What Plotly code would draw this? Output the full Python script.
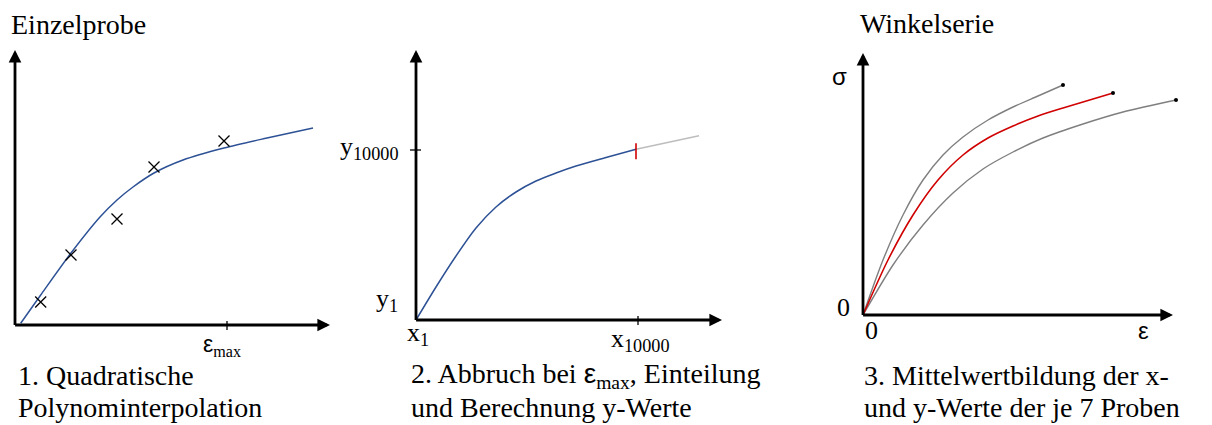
import plotly.graph_objects as go

W, H = 1212, 425

# ---- Panel 1: single specimen, measured points + quadratic polynomial fit ----
eps1_fit = [5.7, 25.7, 56, 85, 102, 118, 139, 168, 209, 252, 298]
sig1_fit = [1.7, 30, 72, 108, 125, 138, 152, 165, 177, 187, 197]
eps1_pts = [25.7, 56, 102, 139, 209]
sig1_pts = [23, 70, 106, 158, 184]
eps1_max = 212

# ---- Panel 2: cut-off at eps_max, evaluation of y values ----
eps2_fit = [0, 20, 40, 60, 80, 100, 120, 140, 160, 190, 220]
sig2_fit = [0, 33, 64, 92, 113, 128, 139, 147, 154, 162.5, 170.7]
eps2_rest = [220, 283]
sig2_rest = [170.7, 184.3]
x10000 = 222
y10000 = 170

# ---- Panel 3: angle series, outer specimens and mean curve ----
eps3_upper = [0, 20, 40, 60, 80, 100, 125, 150, 175, 200]
sig3_upper = [0, 55, 100, 135, 160, 178, 195, 208, 219, 230]
eps3_mean = [0, 25, 50, 75, 100, 125, 150, 175, 200, 250]
sig3_mean = [0, 55, 100, 135, 160, 177, 189, 199, 207, 222]
eps3_lower = [0, 30, 60, 90, 120, 150, 180, 220, 260, 313]
sig3_lower = [0, 50, 90, 122, 146, 163, 177, 191, 203, 215]

SERIF = "'Liberation Serif', 'DejaVu Serif', 'Noto Serif', 'Times New Roman', Times, serif"
SANS = "'Liberation Sans', Arial, sans-serif"
BLUE = "#2d5195"
RED = "#d00000"
GREY = "#7f7f7f"
LIGHT = "#bdbdbd"
SMOOTH = 0.8

# panel geometry: origin in pixels and axis extents (1 unit = 1 px)
panels = {
    1: dict(ox=15, oy=325, xmin=-14, xmax=322, ymin=-14, ymax=282, xtip=315, ytip=275),
    2: dict(ox=416, oy=320, xmin=-14, xmax=296, ymin=-14, ymax=278, xtip=306, ytip=270),
    3: dict(ox=863, oy=315, xmin=-14, xmax=318, ymin=-14, ymax=270, xtip=310, ytip=262),
}

fig = go.Figure()
layout = dict(width=W, height=H, margin=dict(l=0, r=0, t=0, b=0),
              paper_bgcolor="white", plot_bgcolor="rgba(0,0,0,0)",
              font=dict(family=SERIF, size=26, color="black"),
              showlegend=False, autosize=False)

annotations = []
shapes = []

for i, p in panels.items():
    sx = "" if i == 1 else str(i)
    layout["xaxis" + sx] = dict(
        domain=[(p["ox"] + p["xmin"]) / W, (p["ox"] + p["xmax"]) / W],
        range=[p["xmin"], p["xmax"]], visible=False, fixedrange=True,
        anchor="y" + sx)
    layout["yaxis" + sx] = dict(
        domain=[(H - p["oy"] + p["ymin"]) / H, (H - p["oy"] + p["ymax"]) / H],
        range=[p["ymin"], p["ymax"]], visible=False, fixedrange=True,
        anchor="x" + sx)
    xr, yr = "x" + sx, "y" + sx
    # axes drawn as arrows
    arrow = dict(showarrow=True, arrowhead=2, arrowsize=0.9, arrowwidth=2.8,
                 arrowcolor="black", xref=xr, yref=yr, axref=xr, ayref=yr, text="")
    annotations.append(dict(arrow, x=p["xtip"], y=0, ax=-1.4, ay=0))
    annotations.append(dict(arrow, x=0, y=p["ytip"], ax=0, ay=-1.4))

# panel 1 traces
fig.add_trace(go.Scatter(x=eps1_fit, y=sig1_fit, mode="lines", xaxis="x", yaxis="y",
                         line=dict(color=BLUE, width=1.5, shape="spline", smoothing=SMOOTH)))
fig.add_trace(go.Scatter(x=eps1_pts, y=sig1_pts, mode="markers", xaxis="x", yaxis="y",
                         marker=dict(symbol="x-thin", size=11, color="black",
                                     line=dict(width=1.3, color="black"))))
shapes.append(dict(type="line", xref="x", yref="y", x0=eps1_max, x1=eps1_max, y0=-5, y1=4,
                   line=dict(color="black", width=1.3)))
annotations.append(dict(x=eps1_max, y=0, xref="x", yref="y", showarrow=False,
                        xanchor="center", yanchor="top", yshift=-4, xshift=-5,
                        text="<span style='font-family:Liberation Sans'>ε</span><sub>max</sub>",
                        font=dict(family=SERIF, size=23, color="black")))

# panel 2 traces
fig.add_trace(go.Scatter(x=eps2_rest, y=sig2_rest, mode="lines", xaxis="x2", yaxis="y2",
                         line=dict(color=LIGHT, width=1.4)))
fig.add_trace(go.Scatter(x=eps2_fit, y=sig2_fit, mode="lines", xaxis="x2", yaxis="y2",
                         line=dict(color=BLUE, width=1.5, shape="spline", smoothing=SMOOTH)))
shapes.append(dict(type="line", xref="x2", yref="y2", x0=eps2_fit[-1], x1=eps2_fit[-1],
                   y0=sig2_fit[-1] - 10, y1=sig2_fit[-1] + 6, line=dict(color=RED, width=1.6)))
shapes.append(dict(type="line", xref="x2", yref="y2", x0=x10000, x1=x10000, y0=-5, y1=4,
                   line=dict(color="black", width=1.3)))
shapes.append(dict(type="line", xref="x2", yref="y2", x0=-6, x1=5, y0=y10000, y1=y10000,
                   line=dict(color="black", width=1.3)))
lab = dict(xref="x2", yref="y2", showarrow=False, font=dict(family=SERIF, size=26, color="black"))
annotations += [
    dict(lab, x=0, y=y10000, xanchor="right", yanchor="middle", xshift=-16, yshift=2,
         text="y<sub>10000</sub>"),
    dict(lab, x=0, y=0, xanchor="right", yanchor="bottom", xshift=-16, yshift=2,
         text="y<sub>1</sub>"),
    dict(lab, x=0, y=0, xanchor="left", yanchor="top", xshift=-11, yshift=4,
         text="x<sub>1</sub>"),
    dict(lab, x=x10000, y=0, xanchor="center", yanchor="top", xshift=2, yshift=-2,
         text="x<sub>10000</sub>"),
]

# panel 3 traces
for ex, sy, col in [(eps3_upper, sig3_upper, GREY), (eps3_lower, sig3_lower, GREY),
                    (eps3_mean, sig3_mean, RED)]:
    fig.add_trace(go.Scatter(x=ex, y=sy, mode="lines", xaxis="x3", yaxis="y3",
                             line=dict(color=col, width=1.4 if col == GREY else 1.6,
                                       shape="spline", smoothing=SMOOTH)))
fig.add_trace(go.Scatter(x=[eps3_upper[-1], eps3_mean[-1], eps3_lower[-1]],
                         y=[sig3_upper[-1], sig3_mean[-1], sig3_lower[-1]],
                         mode="markers", xaxis="x3", yaxis="y3",
                         marker=dict(size=4, color="black")))
lab3 = dict(xref="x3", yref="y3", showarrow=False, font=dict(family=SANS, size=24, color="black"))
annotations += [
    dict(lab3, x=0, y=238, xanchor="center", yanchor="middle", xshift=-24, text="σ"),
    dict(lab3, x=0, y=0, xanchor="center", yanchor="middle", xshift=-20, yshift=8,
         text="0", font=dict(family=SERIF, size=26, color="black")),
    dict(lab3, x=0, y=0, xanchor="center", yanchor="middle", xshift=8, yshift=-15,
         text="0", font=dict(family=SERIF, size=26, color="black")),
    dict(lab3, x=280, y=0, xanchor="center", yanchor="middle", yshift=-15, text="ε"),
]


# titles and captions, placed relative to each panel's origin
def ptext(ref, dx, dy, txt, size=28):
    return dict(xref="x" + ref, yref="y" + ref, x=0, y=0, xanchor="left",
                yanchor="middle", xshift=dx, yshift=dy, showarrow=False, text=txt,
                font=dict(family=SERIF, size=size, color="black"))


annotations += [
    ptext("", -6, 301, "Einzelprobe"),
    ptext("3", -5, 292, "Winkelserie"),
    ptext("", 1, -50, "1. Quadratische"),
    ptext("", 1, -82, "Polynominterpolation"),
    ptext("2", -7, -55, "2. Abbruch bei <span style='font-family:Liberation Sans'>ε</span><sub>max</sub>, Einteilung"),
    ptext("2", -7, -87, "und Berechnung y-Werte"),
    ptext("3", -1, -60, "3. Mittelwertbildung der x-"),
    ptext("3", -1, -92, "und y-Werte der je 7 Proben"),
]

layout["annotations"] = annotations
layout["shapes"] = shapes
fig.update_layout(**layout)
fig.write_html("out.html")
